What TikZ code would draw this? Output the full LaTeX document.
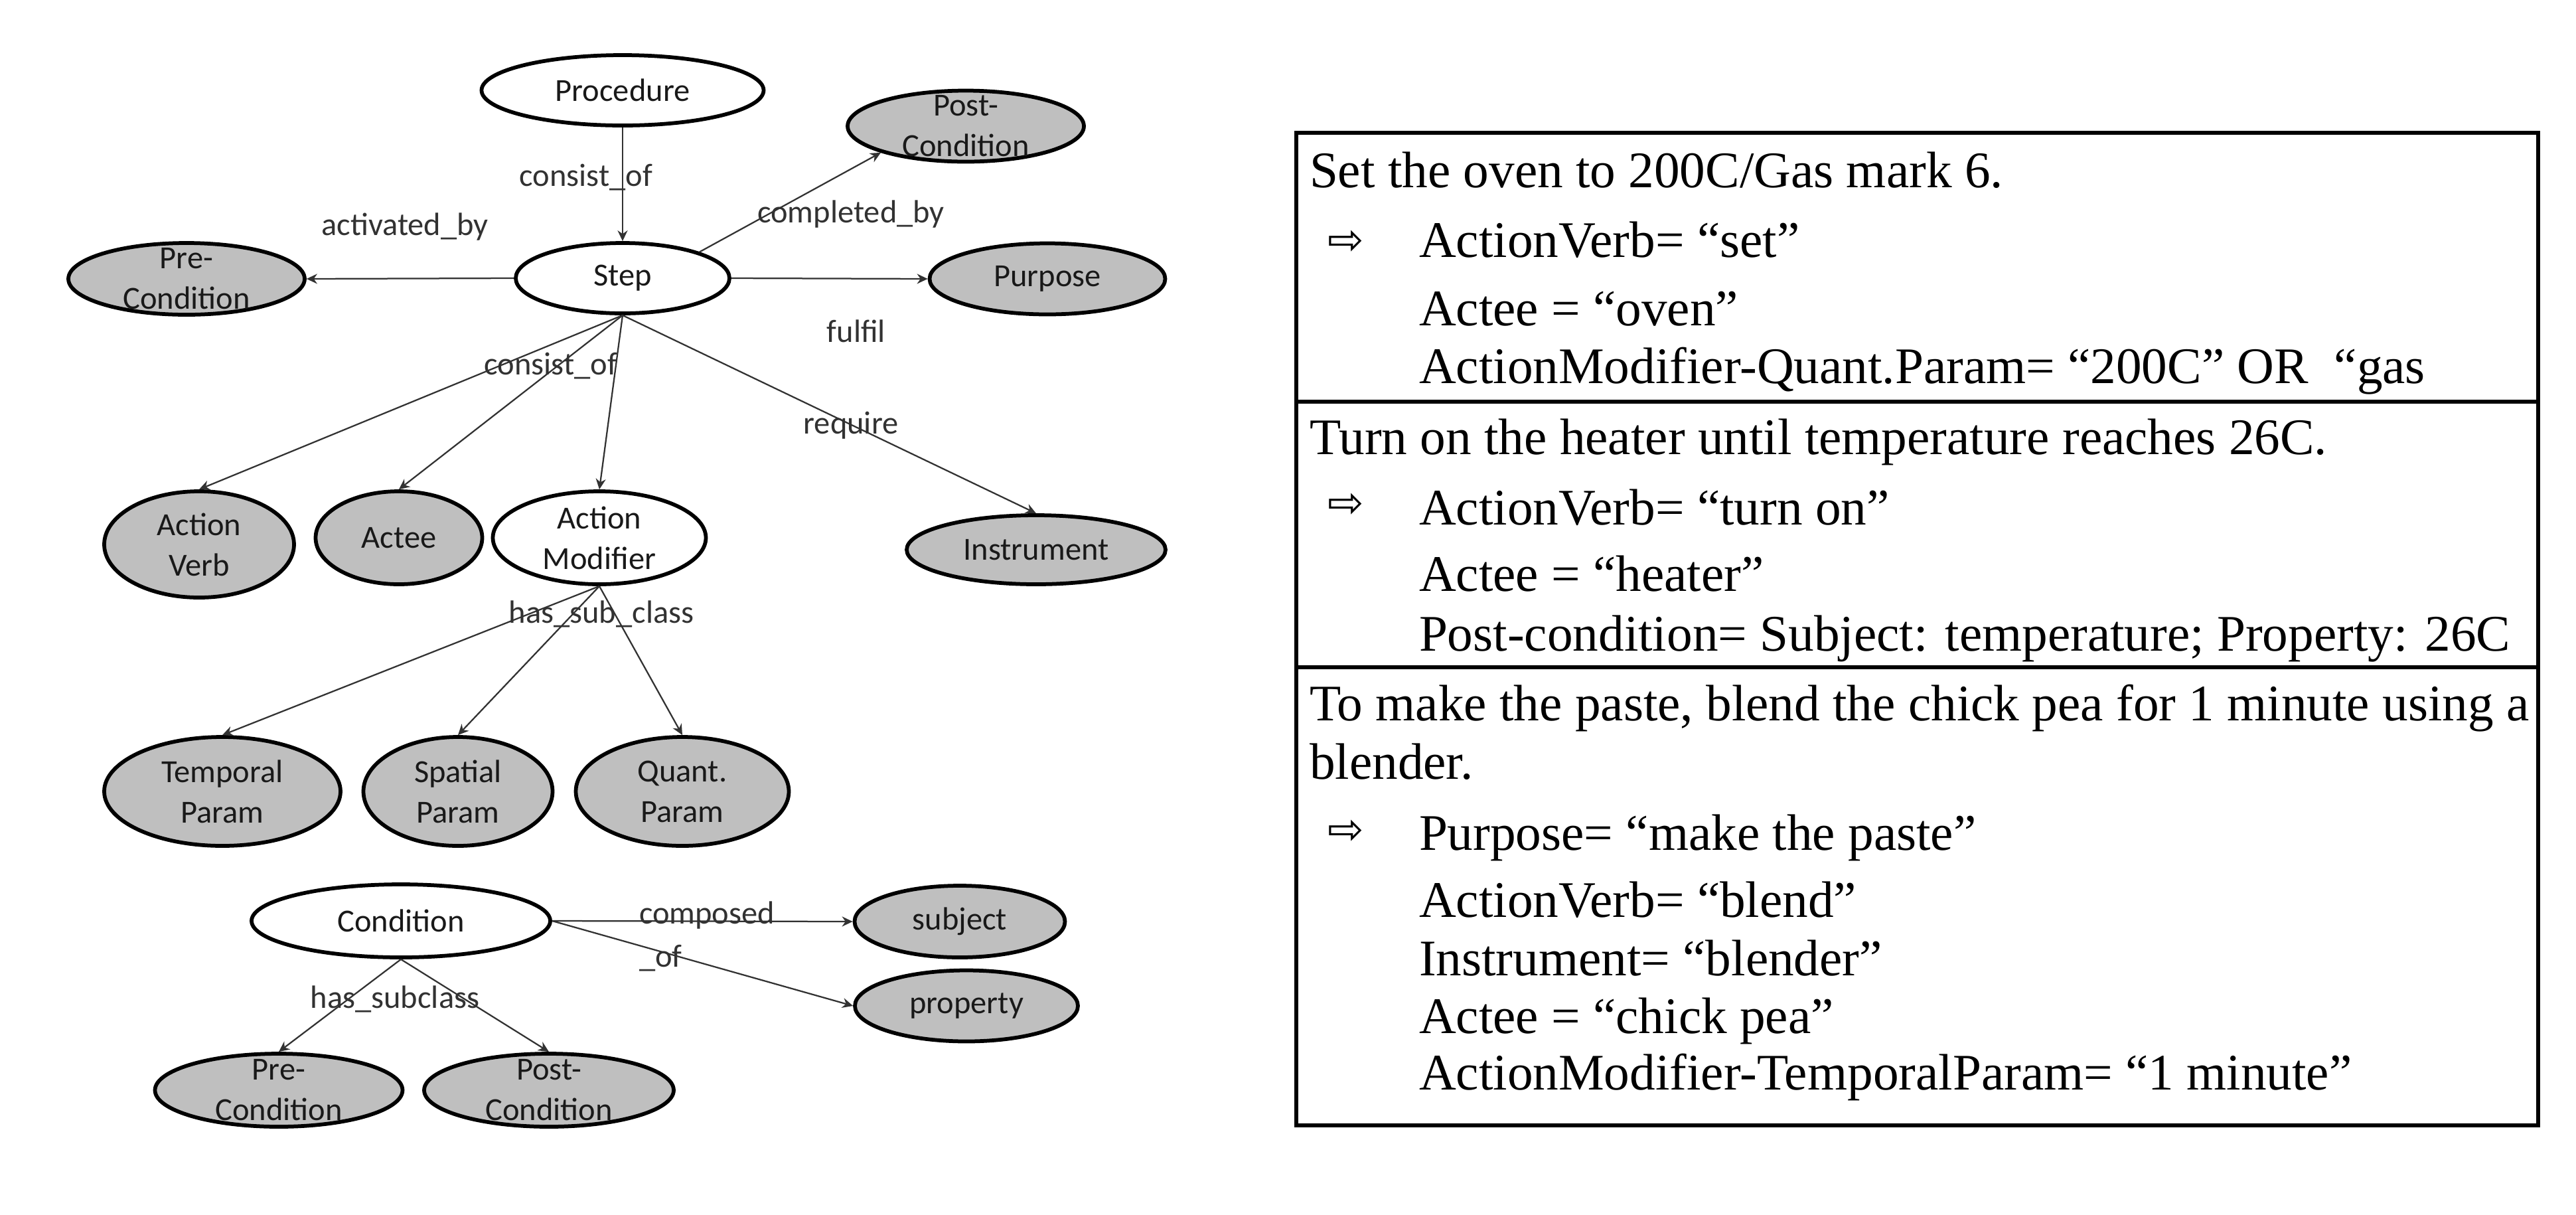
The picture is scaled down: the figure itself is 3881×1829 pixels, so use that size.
\documentclass[tikz,border=0pt]{standalone}
\usepackage{fontspec}
\setmainfont{Liberation Serif}
\newfontfamily\graphfont{Carlito}
\newfontfamily\arrowfont{DejaVu Sans}
\usetikzlibrary{shapes.geometric,arrows.meta}
\definecolor{nodegray}{RGB}{191,191,191}
\definecolor{inkgray}{RGB}{50,50,50}
\begin{document}
\begin{tikzpicture}[x=0.2pt,y=-0.2pt,
  ell/.style={ellipse,draw=black,line width=1.15pt,inner sep=0pt},
  gfill/.style={ell,fill=nodegray},
  wfill/.style={ell,fill=white},
  ntext/.style={font=\graphfont\fontsize{9.7}{12.2}\selectfont,align=center,inner sep=0pt,text=black!90},
  elabel/.style={font=\graphfont\fontsize{9.7}{13}\selectfont,inner sep=0pt,text=inkgray},
  edgearrow/.style={draw=inkgray,line width=0.45pt,-{Stealth[length=3.2pt,width=3pt]}},
  tline/.style={anchor=base west,inner sep=0pt,font=\fontsize{15.45}{18}\selectfont},
  tarrow/.style={inner sep=0pt,font=\arrowfont\fontsize{13}{13}\selectfont},
  tablebox/.style={line width=1.1pt,draw=black}
]
\useasboundingbox (0,0) rectangle (3881,1829);
\fill[white] (0,0) rectangle (3881,1829);

% ---- ellipses ----
\node[wfill,minimum width=85pt,minimum height=21.2pt] (proc) at (938,136) {};
\node[gfill,minimum width=71.2pt,minimum height=21.4pt] (postT) at (1455,190) {};
\node[wfill,minimum width=64.4pt,minimum height=21.2pt] (step) at (938,419) {};
\node[gfill,minimum width=71.2pt,minimum height=21.6pt] (preL) at (281,420) {};
\node[gfill,minimum width=71pt,minimum height=21.4pt] (purp) at (1578,420) {};
\node[gfill,minimum width=57.2pt,minimum height=32pt] (av) at (300,820) {};
\node[gfill,minimum width=50.2pt,minimum height=28pt] (actee) at (601,810) {};
\node[wfill,minimum width=64.2pt,minimum height=28pt] (am) at (903,810) {};
\node[gfill,minimum width=78pt,minimum height=20.8pt] (instr) at (1561,828) {};
\node[gfill,minimum width=71.2pt,minimum height=32.8pt] (temp) at (335,1192) {};
\node[gfill,minimum width=57pt,minimum height=32.8pt] (spat) at (690,1192) {};
\node[gfill,minimum width=64.2pt,minimum height=32.8pt] (quant) at (1028,1192) {};
\node[wfill,minimum width=90pt,minimum height=22pt] (cond) at (604,1387) {};
\node[gfill,minimum width=63.4pt,minimum height=21.6pt] (subj) at (1446,1388) {};
\node[gfill,minimum width=67.2pt,minimum height=21.4pt] (prop) at (1456,1515) {};
\node[gfill,minimum width=74.6pt,minimum height=22pt] (preB) at (420,1642) {};
\node[gfill,minimum width=75.2pt,minimum height=22pt] (postB) at (827,1642) {};

% ---- ellipse texts ----
\node[ntext] (procT) at (proc) {Procedure};
\node[ntext] (postTT) at (postT) {Post-\\Condition};
\node[ntext] (stepT) at (step) {Step};
\node[ntext] (preLT) at (preL) {Pre-\\Condition};
\node[ntext] (purpT) at (purp) {Purpose};
\node[ntext] (avT) at (av) {Action\\Verb};
\node[ntext] (acteeT) at (actee) {Actee};
\node[ntext] (amT) at (am) {Action\\Modifier};
\node[ntext] (instrT) at (instr) {Instrument};
\node[ntext] (tempT) at (temp) {Temporal\\Param};
\node[ntext] (spatT) at (spat) {Spatial\\Param};
\node[ntext] (quantT) at (quant) {Quant.\\Param};
\node[ntext] (condT) at (cond) {Condition};
\node[ntext] (subjT) at (subj) {subject};
\node[ntext] (propT) at (prop) {property};
\node[ntext] (preBT) at (preB) {Pre-\\Condition};
\node[ntext] (postBT) at (postB) {Post-\\Condition};

% ---- edge labels ----
\node[elabel] (l1) at (883,267) {consist\_of};
\node[elabel] (l2) at (610,342) {activated\_by};
\node[elabel] (l3) at (1282,323) {completed\_by};
\node[elabel] (l4) at (1290,499) {fulfil};
\node[elabel] (l5) at (830,551) {consist\_of};
\node[elabel] (l6) at (1282,641) {require};
\node[elabel] (l7) at (906,925) {has\_sub\_class};
\node[elabel,align=left,anchor=west] (l8) at (962,1410) {composed\\\_of};
\node[elabel] (l9) at (595,1505) {has\_subclass};

% ---- edges ----
\draw[edgearrow] (proc.south) -- (step.north);
\draw[edgearrow] (step.west) -- (preL.east);
\draw[edgearrow] (step.north east) -- (postT.south west);
\draw[edgearrow] (step.east) -- (purp.west);
\draw[edgearrow] (step.south) -- (av.north);
\draw[edgearrow] (step.south) -- (actee.north);
\draw[edgearrow] (step.south) -- (am.north);
\draw[edgearrow] (step.south) -- (instr.north);
\draw[edgearrow] (am.south) -- (temp.north);
\draw[edgearrow] (am.south) -- (spat.north);
\draw[edgearrow] (am.south) -- (quant.north);
\draw[edgearrow] (cond.east) -- (subj.west);
\draw[edgearrow] (cond.east) -- (prop.west);
\draw[edgearrow] (cond.south) -- (preB.north);
\draw[edgearrow] (cond.south) -- (postB.north);

% ---- table ----
\draw[tablebox] (1953,200) rectangle (3824,1695);
\draw[tablebox] (1953,605) -- (3824,605);
\draw[tablebox] (1953,1005) -- (3824,1005);

\node[tline] (r1a) at (1972,282) {Set the oven to 200C/Gas mark 6.};
\node[tarrow] (r1arr) at (2028,365) {⇨};
\node[tline] (r1b) at (2137,387) {ActionVerb= “set”};
\node[tline] (r1c) at (2137,490) {Actee = “oven”};
\node[tline] (r1d) at (2137,577) {ActionModifier-Quant.Param= “200C” OR~ “gas};

\node[tline] (r2a) at (1972,684) {Turn on the heater until temperature reaches 26C.};
\node[tarrow] (r2arr) at (2028,761) {⇨};
\node[tline] (r2b) at (2137,790) {ActionVerb= “turn on”};
\node[tline] (r2c) at (2137,890) {Actee = “heater”};
\node[tline] (r2d) at (2137,980) {Post-condition= Subject: temperature; Property: 26C};

\node[tline] (r3a) at (1972,1085) {To make the paste, blend the chick pea for 1 minute using a};
\node[tline] (r3b) at (1972,1173) {blender.};
\node[tarrow] (r3arr) at (2028,1253) {⇨};
\node[tline] (r3c) at (2137,1280) {Purpose= “make the paste”};
\node[tline] (r3d) at (2137,1381) {ActionVerb= “blend”};
\node[tline] (r3e) at (2137,1469) {Instrument= “blender”};
\node[tline] (r3f) at (2137,1556) {Actee = “chick pea”};
\node[tline] (r3g) at (2137,1641) {ActionModifier-TemporalParam= “1 minute”};
\end{tikzpicture}
\end{document}
